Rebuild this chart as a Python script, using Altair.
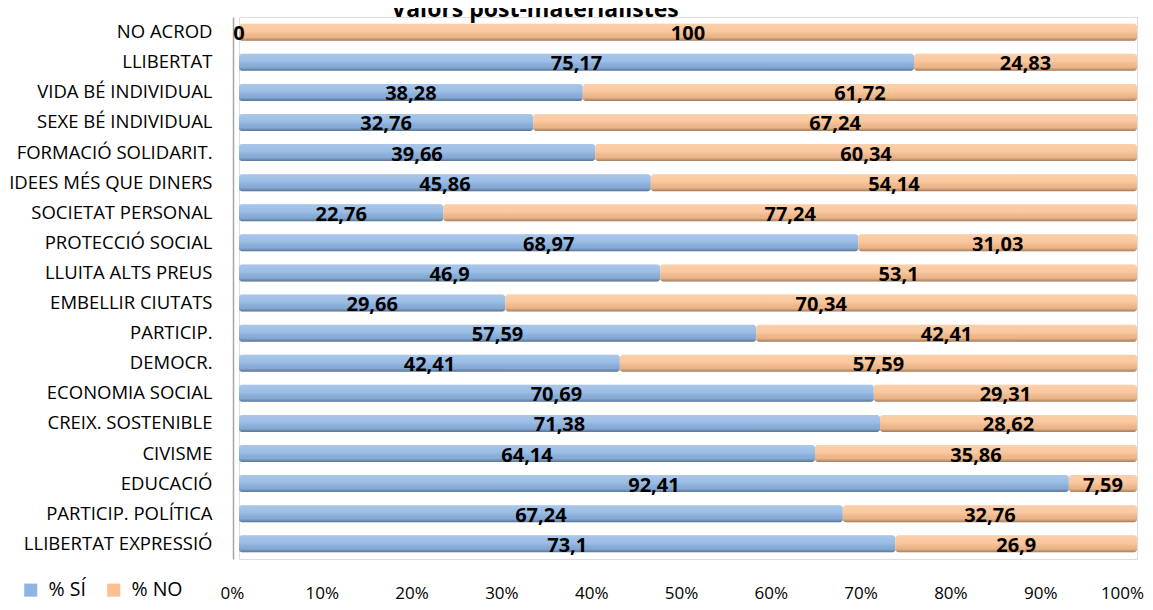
import altair as alt
import pandas as pd

title_text = "Valors post-materialistes"
categories = ["NO ACROD", "LLIBERTAT", "VIDA BÉ INDIVIDUAL", "SEXE BÉ INDIVIDUAL",
              "FORMACIÓ SOLIDARIT.", "IDEES MÉS QUE DINERS", "SOCIETAT PERSONAL",
              "PROTECCIÓ SOCIAL", "LLUITA  ALTS PREUS", "EMBELLIR CIUTATS", "PARTICIP.",
              "DEMOCR.", "ECONOMIA SOCIAL", "CREIX. SOSTENIBLE", "CIVISME", "EDUCACIÓ",
              "PARTICIP. POLÍTICA", "LLIBERTAT EXPRESSIÓ"]
si_values = [0, 75.17, 38.28, 32.76, 39.66, 45.86, 22.76, 68.97, 46.9, 29.66, 57.59,
             42.41, 70.69, 71.38, 64.14, 92.41, 67.24, 73.1]
no_values = [100, 24.83, 61.72, 67.24, 60.34, 54.14, 77.24, 31.03, 53.1, 70.34, 42.41,
             57.59, 29.31, 28.62, 35.86, 7.59, 32.76, 26.9]
series_names = ["% SÍ", "% NO"]
series_colors = ["#8DB4E2", "#FAC090"]
x_ticks = [0, 10, 20, 30, 40, 50, 60, 70, 80, 90, 100]

rows = []
for c, s, n in zip(categories, si_values, no_values):
    for k, (name, v) in enumerate(zip(series_names, [s, n])):
        rows.append({"cat": c, "series": name, "order": k, "value": v,
                     "label": str(v).replace(".", ",")})
df = pd.DataFrame(rows)

FONT = "Open Sans"

base = alt.Chart(df).transform_stack(
    stack="value", groupby=["cat"], as_=["x0", "x1"],
    sort=[alt.SortField("order", order="ascending")]
).transform_calculate(mid="(datum.x0 + datum.x1) / 2")

y_enc = alt.Y("cat:N", sort=categories, title=None,
              scale=alt.Scale(paddingInner=0.43, paddingOuter=0.22),
              axis=alt.Axis(ticks=False, labelFontSize=18.5, labelFont=FONT,
                            labelColor="#000000", labelPadding=21, labelLimit=300,
                            domainColor="#A6A6A6", domainWidth=1.5, offset=6))
x_enc = alt.X("x0:Q", title=None,
              scale=alt.Scale(domain=[0, 100], nice=False, zero=True),
              axis=alt.Axis(values=x_ticks, labelExpr="datum.value + '%'",
                            grid=False, domain=False, ticks=False, labelFlush=False,
                            labelFontSize=17, labelFont=FONT, labelColor="#000000",
                            labelPadding=26,
                            labelOffset={"condition": {"test": "datum.value == 100",
                                                       "value": -15},
                                         "value": -7}))

bars = base.mark_bar(size=17, cornerRadius=3).encode(
    y=y_enc, x=x_enc, x2="x1:Q",
    color=alt.Color("series:N", sort=series_names,
                    scale=alt.Scale(domain=series_names, range=series_colors),
                    legend=alt.Legend(title=None, orient="none", legendX=-218, legendY=563,
                                      direction="horizontal", symbolType="square",
                                      symbolSize=170, symbolStrokeWidth=0,
                                      labelFontSize=19.5, labelFont=FONT,
                                      labelColor="#000000", columnPadding=18,
                                      labelOffset=8)),
    order=alt.Order("order:Q"),
)

shade = base.mark_bar(
    size=17, cornerRadius=3,
    fill=alt.LinearGradient(
        gradient="linear", x1=0, x2=0, y1=0, y2=1,
        stops=[alt.GradientStop(offset=0, color="rgba(255,255,255,0.25)"),
               alt.GradientStop(offset=0.45, color="rgba(255,255,255,0.12)"),
               alt.GradientStop(offset=0.8, color="rgba(0,0,0,0.06)"),
               alt.GradientStop(offset=1, color="rgba(0,0,0,0.35)")])
).encode(y=alt.Y("cat:N", sort=categories), x="x0:Q", x2="x1:Q")

labels = base.mark_text(fontSize=20, font=FONT, fontWeight="bold", color="#000000",
                        baseline="middle", dy=2).encode(
    y=alt.Y("cat:N", sort=categories), x="mid:Q", text="label:N")

title = alt.Chart(pd.DataFrame({"t": [title_text]})).mark_text(
    fontSize=23, font=FONT, fontWeight="bold", color="#000000",
    align="center", baseline="alphabetic"
).encode(x=alt.value(296), y=alt.value(0), text="t:N")

chart = alt.layer(bars, shade, labels, title).properties(
    width=898, height=542,
    autosize=alt.AutoSizeParams(type="none"),
    padding={"left": 231, "top": 9, "right": 8, "bottom": 43},
).configure_view(stroke=None).configure(background="white")

chart.save("out.html", embed_options={"renderer": "svg", "actions": False})
